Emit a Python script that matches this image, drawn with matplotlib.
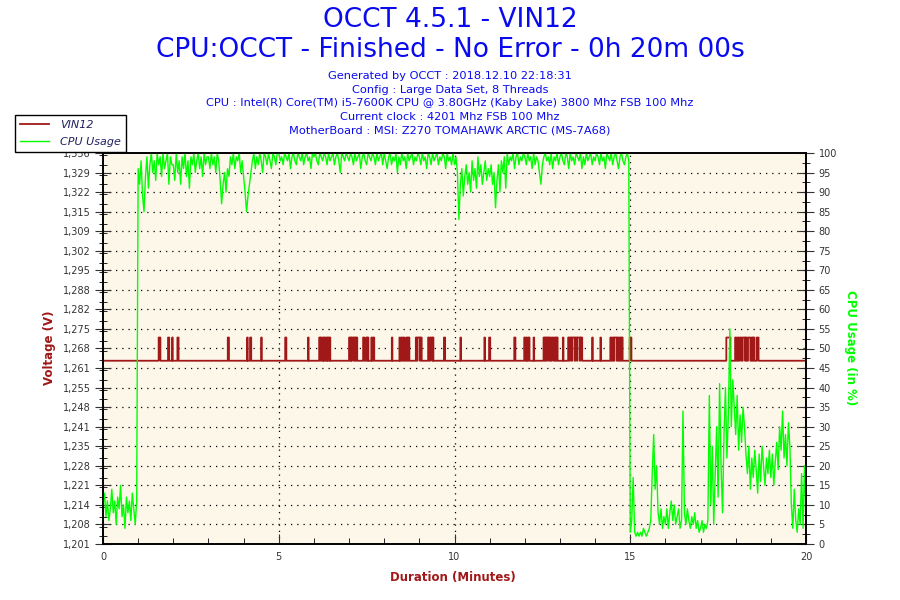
import numpy as np
import matplotlib
matplotlib.use('Agg')
import matplotlib.pyplot as plt
from matplotlib.ticker import MultipleLocator, FuncFormatter

# CPU usage (%) read every 2.5 seconds, one row per minute
cpu_rows = [
    [10, 13, 7, 11, 6, 9, 14, 8, 11, 5, 12, 9, 15, 7, 10, 4, 12, 8, 11, 6, 13, 9, 5, 11],
    [96, 92, 98, 89, 85, 94, 99, 91, 97, 100, 95, 98, 93, 100, 97, 99, 94, 100, 96, 98, 100, 92, 99, 97],
    [97, 93, 100, 95, 98, 92, 99, 96, 100, 94, 98, 91, 99, 97, 100, 95, 98, 100, 96, 99, 94, 100, 97, 99],
    [99, 96, 100, 97, 99, 95, 100, 98, 93, 87, 92, 95, 90, 96, 94, 99, 97, 100, 96, 99, 98, 100, 95, 98],
    [94, 90, 85, 89, 92, 95, 98, 100, 96, 99, 97, 100, 98, 95, 100, 99, 97, 100, 98, 96, 100, 99, 97, 100],
    [100, 98, 99, 97, 100, 99, 98, 100, 96, 99, 100, 98, 97, 100, 99, 98, 100, 97, 99, 100, 98, 99, 96, 100],
    [99, 100, 98, 97, 100, 99, 98, 100, 99, 97, 100, 98, 99, 100, 97, 99, 100, 98, 95, 100, 99, 98, 100, 99],
    [98, 100, 99, 97, 100, 98, 99, 100, 96, 99, 100, 98, 97, 100, 99, 98, 100, 99, 97, 100, 98, 99, 100, 97],
    [100, 98, 96, 99, 100, 97, 99, 98, 100, 95, 99, 97, 100, 98, 99, 96, 100, 98, 99, 100, 97, 99, 98, 100],
    [99, 97, 100, 98, 99, 96, 100, 99, 97, 100, 98, 99, 100, 97, 99, 98, 100, 99, 96, 100, 98, 99, 97, 100],
    [97, 99, 95, 83, 92, 96, 89, 94, 97, 92, 95, 90, 98, 93, 96, 91, 99, 94, 97, 92, 95, 98, 93, 96],
    [94, 97, 92, 95, 86, 93, 97, 90, 98, 95, 99, 91, 100, 97, 99, 98, 100, 96, 99, 100, 97, 99, 98, 100],
    [99, 97, 100, 98, 99, 96, 100, 97, 99, 98, 95, 92, 97, 99, 100, 98, 99, 97, 100, 96, 99, 98, 100, 97],
    [99, 100, 98, 97, 100, 99, 96, 100, 98, 99, 97, 100, 99, 98, 100, 96, 99, 97, 100, 98, 99, 100, 97, 99],
    [98, 100, 99, 97, 100, 98, 99, 96, 100, 99, 98, 100, 97, 99, 100, 98, 96, 99, 100, 98, 97, 99, 100, 98],
    [3, 6, 17, 3, 2, 3, 2, 3, 2, 4, 3, 2, 3, 4, 6, 18, 28, 14, 20, 8, 5, 9, 4, 7],
    [5, 9, 4, 8, 11, 6, 10, 5, 7, 9, 4, 6, 34, 8, 5, 9, 6, 4, 7, 5, 8, 4, 6, 3],
    [4, 6, 3, 5, 4, 6, 38, 10, 25, 5, 18, 30, 12, 41, 20, 8, 28, 40, 22, 33, 55, 30, 42, 35],
    [28, 38, 24, 33, 26, 35, 30, 23, 18, 25, 14, 22, 17, 24, 19, 13, 23, 16, 25, 20, 15, 22, 18, 24],
    [17, 23, 15, 21, 26, 19, 30, 24, 34, 22, 28, 20, 31, 25, 10, 4, 14, 6, 3, 9, 5, 18, 4, 20],
]
cpu_last = 8

# VIN12 voltage: base level and the short periods where it reads higher (minutes)
v_low = 1.264
v_high = 1.272
high_periods = [
    (1.57, 1.63), (1.85, 1.87), (1.96, 1.98), (2.11, 2.14),
    (3.55, 3.57), (4.09, 4.11), (4.17, 4.20), (4.49, 4.51), (5.18, 5.20), (5.82, 5.84),
    (6.15, 6.17), (6.19, 6.23), (6.26, 6.27), (6.29, 6.33), (6.36, 6.38), (6.40, 6.42), (6.44, 6.46),
    (7.00, 7.02), (7.04, 7.06), (7.08, 7.13), (7.15, 7.17), (7.19, 7.22),
    (7.40, 7.42), (7.47, 7.50), (7.52, 7.54), (7.62, 7.64), (7.67, 7.71),
    (8.21, 8.23), (8.42, 8.44), (8.48, 8.50), (8.55, 8.57), (8.62, 8.65), (8.68, 8.70),
    (8.90, 8.93), (8.95, 9.00), (9.02, 9.05), (9.25, 9.28), (9.31, 9.35), (9.37, 9.39),
    (9.70, 9.72), (10.16, 10.18), (10.84, 10.86), (10.98, 11.00), (11.70, 11.72),
    (11.98, 12.00), (12.04, 12.06), (12.10, 12.12), (12.24, 12.26),
    (12.52, 12.55), (12.58, 12.60), (12.63, 12.67), (12.70, 12.72), (12.76, 12.80), (12.85, 12.87), (12.90, 12.92),
    (13.07, 13.09), (13.23, 13.26), (13.28, 13.33), (13.35, 13.40), (13.42, 13.48), (13.50, 13.55), (13.58, 13.63),
    (13.91, 13.93), (14.14, 14.16), (14.42, 14.45), (14.50, 14.52), (14.55, 14.60), (14.63, 14.66),
    (14.70, 14.72), (14.75, 14.77), (14.97, 15.02),
    (17.73, 17.84), (17.98, 18.01), (18.04, 18.08), (18.11, 18.15), (18.19, 18.25), (18.28, 18.31),
    (18.35, 18.40), (18.45, 18.47), (18.50, 18.53), (18.60, 18.64),
]

title1 = "OCCT 4.5.1 - VIN12"
title2 = "CPU:OCCT - Finished - No Error - 0h 20m 00s"
info_lines = [
    "Generated by OCCT : 2018.12.10 22:18:31",
    "Config : Large Data Set, 8 Threads",
    "CPU : Intel(R) Core(TM) i5-7600K CPU @ 3.80GHz (Kaby Lake) 3800 Mhz FSB 100 Mhz",
    "Current clock : 4201 Mhz FSB 100 Mhz",
    "MotherBoard : MSI: Z270 TOMAHAWK ARCTIC (MS-7A68)",
]

# voltage axis: 20 divisions
v_min = 1.2008
v_step = 0.006742
v_max = v_min + 20 * v_step

red = '#a01818'
green = '#00ff00'
blue = '#0a0aee'

cpu = np.array([v for row in cpu_rows for v in row] + [cpu_last], dtype=float)
t_cpu = np.arange(len(cpu)) * 2.5 / 60.0

t_v = np.arange(0, 1201) / 60.0
volt = np.full(t_v.shape, v_low)
for a, b in high_periods:
    volt[(t_v >= a) & (t_v <= b)] = v_high

fig = plt.figure(figsize=(9, 6), dpi=100)
fig.patch.set_facecolor('white')
ax = fig.add_axes([103/900, 1-544/600, 703/900, 391/600])
ax.set_facecolor('#fdf7ea')
ax2 = ax.twinx()

ax.step(t_v, volt, where='post', color=red, lw=1.3, label='VIN12')
ax2.plot(t_cpu, cpu, color=green, lw=1.0, label='CPU Usage')

ax.set_xlim(0, 20)
ax.set_ylim(v_min, v_max)
ax2.set_ylim(0, 100)

ax.set_yticks([v_min + i*v_step for i in range(21)])
ax.yaxis.set_minor_locator(MultipleLocator(v_step/2))
ax.yaxis.set_major_formatter(FuncFormatter(lambda v, p: ('%.3f' % v).replace('.', ',')))
ax.xaxis.set_major_locator(MultipleLocator(5))
ax.xaxis.set_minor_locator(MultipleLocator(1))
ax2.yaxis.set_major_locator(MultipleLocator(5))
ax2.yaxis.set_minor_locator(MultipleLocator(2.5))

ax.tick_params(axis='y', which='major', direction='inout', length=12, labelsize=7, colors='#333333', pad=3)
ax.tick_params(axis='y', which='minor', direction='inout', length=6)
ax.tick_params(axis='x', which='major', direction='in', length=7, labelsize=7, colors='#333333', pad=6)
ax.tick_params(axis='x', which='minor', direction='in', length=4)
ax2.tick_params(axis='y', which='major', direction='inout', length=12, labelsize=7, colors='#333333', pad=3)
ax2.tick_params(axis='y', which='minor', direction='inout', length=6)

for y in ax.get_yticks()[1:-1]:
    ax.axhline(y, color='black', lw=0.9, ls=(0, (1, 4)), zorder=0.5)
for x in [5, 10, 15]:
    ax.axvline(x, color='black', lw=0.9, ls=(0, (1, 4)), zorder=0.5)

for a in (ax, ax2):
    for s in a.spines.values():
        s.set_linewidth(1.2)

fig.text(50/900, 1-348/600, 'Voltage (V)', rotation=90, color=red, fontsize=8.5,
         fontweight='bold', ha='center', va='center')
fig.text(850/900, 1-348/600, 'CPU Usage (in %)', rotation=270, color=green, fontsize=8.5,
         fontweight='bold', ha='center', va='center')
fig.text(453/900, 1-578/600, 'Duration (Minutes)', color=red, fontsize=8.5,
         fontweight='bold', ha='center', va='center')

fig.text(0.5, 1-20/600, title1, color=blue, fontsize=19, ha='center', va='center')
fig.text(0.5, 1-50/600, title2, color=blue, fontsize=19, ha='center', va='center')
for i, line in enumerate(info_lines):
    fig.text(0.5, 1-(76 + i*13.7)/600, line, color=blue, fontsize=8.2, ha='center', va='center')

h1, l1 = ax.get_legend_handles_labels()
h2, l2 = ax2.get_legend_handles_labels()
leg = fig.legend(h1 + h2, l1 + l2, loc='upper left', bbox_to_anchor=(15/900, 1-115/600),
                 fancybox=False, edgecolor='black', framealpha=1, prop={'style': 'italic', 'size': 8},
                 handlelength=2.6, borderpad=0.45, labelspacing=0.65, handletextpad=1.0,
                 borderaxespad=0)
leg.get_frame().set_linewidth(1.0)
for t in leg.get_texts():
    t.set_color('#202060')

fig.savefig('out.png', dpi=100)
